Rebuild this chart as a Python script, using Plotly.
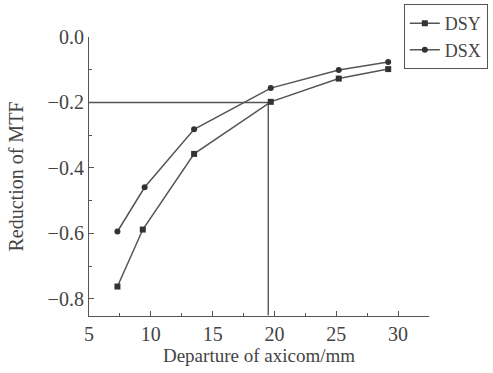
import plotly.graph_objects as go

# Data
dsy_x = [7.3, 9.35, 13.5, 19.7, 25.2, 29.2]
dsy_y = [-0.762, -0.588, -0.357, -0.198, -0.127, -0.098]
dsx_x = [7.3, 9.5, 13.5, 19.7, 25.2, 29.2]
dsx_y = [-0.594, -0.459, -0.282, -0.156, -0.101, -0.076]

# Guide lines (reading of threshold)
guide_x = [5, 19.5, 19.5]
guide_y = [-0.2, -0.2, -0.85]

x_ticks = [5, 10, 15, 20, 25, 30]
y_ticks = [0.0, -0.2, -0.4, -0.6, -0.8]
y_tick_text = ["0.0", "\u22120.2", "\u22120.4", "\u22120.6", "\u22120.8"]

font_family = "Liberation Serif, Times New Roman, serif"
line_col = "#555555"
mark_col = "#333333"

fig = go.Figure()
fig.add_trace(go.Scatter(x=guide_x, y=guide_y, mode="lines",
                         line=dict(color=line_col, width=1.4),
                         showlegend=False, hoverinfo="skip"))
fig.add_trace(go.Scatter(x=dsy_x, y=dsy_y, mode="lines+markers", name="DSY",
                         line=dict(color=line_col, width=1.5),
                         marker=dict(symbol="square", size=6, color=mark_col)))
fig.add_trace(go.Scatter(x=dsx_x, y=dsx_y, mode="lines+markers", name="DSX",
                         line=dict(color=line_col, width=1.5),
                         marker=dict(symbol="circle", size=6, color=mark_col)))

fig.update_layout(
    width=493, height=373,
    margin=dict(l=89, r=64, t=37, b=57, autoexpand=False),
    paper_bgcolor="white", plot_bgcolor="white",
    font=dict(family=font_family, color="#444444", size=18),
    legend=dict(x=0.926, y=1.118, xanchor="left", yanchor="top",
                bordercolor="#555555", borderwidth=1,
                font=dict(size=18, family=font_family, color="#444444"),
                itemwidth=30, tracegroupgap=0, bgcolor="white"),
)
fig.update_xaxes(
    range=[5, 32.5], tickvals=x_ticks, showgrid=False, zeroline=False,
    showline=True, linecolor=line_col, linewidth=1.2,
    ticks="inside", ticklen=5, tickcolor=line_col,
    minor=dict(dtick=2.5, tick0=5, ticks="inside", ticklen=3, tickcolor=line_col),
    tickfont=dict(size=20, family=font_family),
    title=dict(text="Departure of axicom/mm", font=dict(size=19, family=font_family), standoff=4),
)
fig.update_yaxes(
    range=[-0.852, 0.0], tickvals=y_ticks, ticktext=y_tick_text,
    showgrid=False, zeroline=False,
    showline=True, linecolor=line_col, linewidth=1.2,
    ticks="inside", ticklen=5, tickcolor=line_col,
    minor=dict(dtick=0.1, tick0=0, ticks="inside", ticklen=3, tickcolor=line_col),
    tickfont=dict(size=20, family=font_family),
    title=dict(text="Reduction of MTF", font=dict(size=20, family=font_family), standoff=18),
)

fig.write_html("out.html", config={"displayModeBar": False},
               post_script="document.body.style.margin='0';")
